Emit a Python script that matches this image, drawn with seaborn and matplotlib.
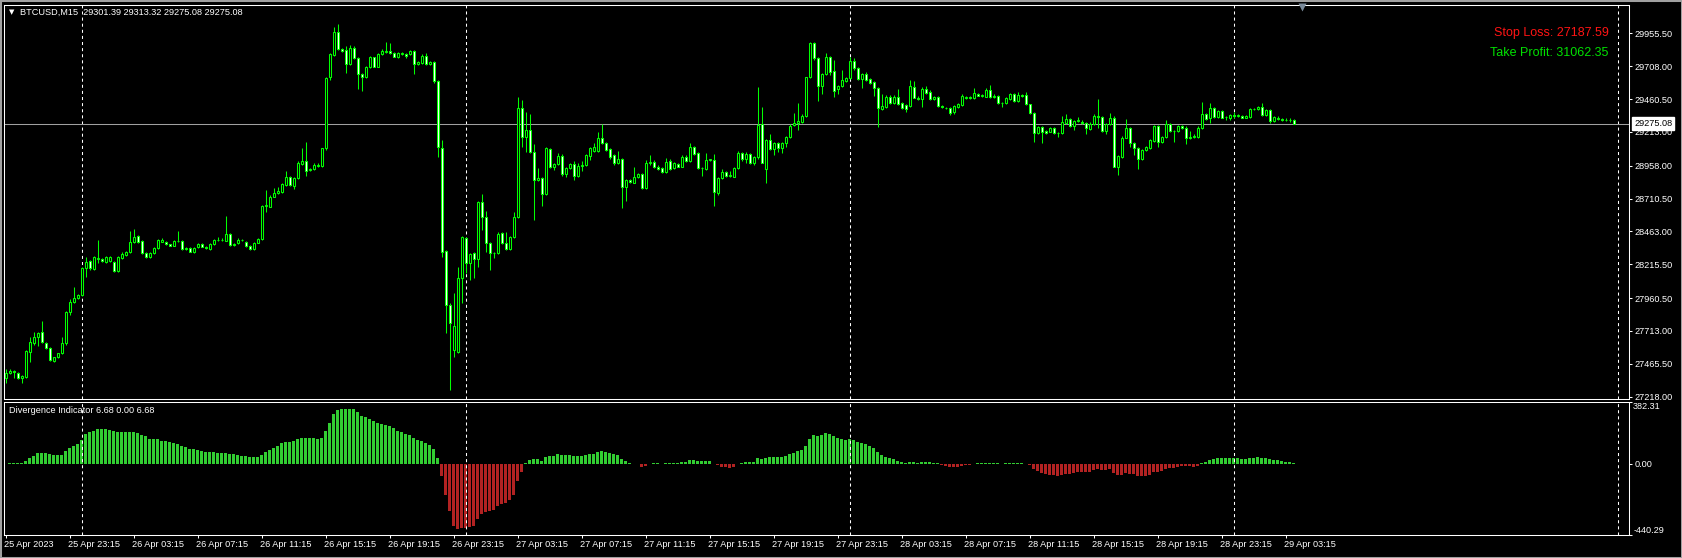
import numpy as np
import pandas as pd
import matplotlib
matplotlib.use("Agg")
import matplotlib.pyplot as plt
import matplotlib.transforms as mtransforms
from matplotlib.patches import Rectangle
import seaborn as sns

# --- chart data ---
symbol = "BTCUSD,M15"
first_bar = "2023-04-25 19:15"
stop_loss = 27187.59
take_profit = 31062.35

open_ = [
    27356, 27394, 27414, 27399, 27356, 27368, 27557, 27620, 27670, 27703,
    27620, 27582, 27489, 27519, 27544, 27620, 27858, 27929, 27959, 27984,
    28185, 28240, 28177, 28253, 28253, 28235, 28240, 28235, 28167, 28260,
    28285, 28305, 28381, 28429, 28393, 28303, 28268, 28298, 28336, 28386,
    28386, 28366, 28356, 28388, 28393, 28330, 28336, 28310, 28343, 28366,
    28348, 28328, 28366, 28398, 28400, 28393, 28441, 28361, 28373, 28398,
    28386, 28353, 28328, 28378, 28406, 28657, 28650, 28725, 28750, 28763,
    28813, 28871, 28805, 28863, 28971, 28996, 28926, 28931, 28956, 28956,
    29089, 29629, 29793, 29963, 29835, 29830, 29722, 29843, 29767, 29649,
    29624, 29700, 29775, 29705, 29800, 29818, 29825, 29805, 29780, 29798,
    29800, 29800, 29823, 29725, 29730, 29785, 29725, 29737, 29599, 29089,
    28318, 27909, 27569, 27552, 28115, 28411, 28223, 28298, 28253, 28682,
    28574, 28373, 28298, 28298, 28449, 28378, 28328, 28418, 28574, 29396,
    29177, 29227, 29059, 28851, 28863, 28743, 29082, 28951, 28969, 29034,
    28893, 28943, 28969, 28883, 28959, 28964, 29034, 29069, 29069, 29165,
    29127, 29082, 29039, 28976, 29006, 28795, 28851, 28830, 28871, 28896,
    28793, 28976, 28989, 28951, 28938, 28908, 28991, 28938, 28971, 28951,
    29026, 28994, 29099, 29051, 28938, 28933, 28999, 28999, 28755, 28863,
    28908, 28883, 28876, 28938, 29051, 29006, 29046, 28976, 29021, 29273,
    28931, 29152, 29082, 29132, 29089, 29127, 29172, 29265, 29283, 29290,
    29335, 29624, 29880, 29767, 29561, 29649, 29775, 29674, 29534, 29559,
    29599, 29617, 29747, 29697, 29609, 29649, 29609, 29587, 29541, 29383,
    29403, 29479, 29428, 29473, 29428, 29416, 29411, 29554, 29471, 29458,
    29536, 29516, 29458, 29473, 29408, 29396, 29391, 29365, 29403, 29416,
    29466, 29479, 29466, 29496, 29486, 29479, 29529, 29474, 29484, 29428,
    29428, 29461, 29496, 29446, 29491, 29491, 29421, 29353, 29207, 29247,
    29220, 29215, 29240, 29207, 29202, 29283, 29310, 29260, 29298, 29290,
    29283, 29232, 29273, 29333, 29328, 29220, 29273, 29315, 28951, 29026,
    29170, 29240, 29132, 29094, 29009, 29077, 29094, 29147, 29257, 29139,
    29172, 29273, 29222, 29220, 29257, 29245, 29165, 29172, 29177, 29240,
    29345, 29315, 29391, 29323, 29370, 29328, 29315, 29340, 29335, 29333,
    29320, 29323, 29383, 29383, 29403, 29340, 29378, 29298, 29320, 29310,
    29303, 29306, 29301.39,
]
high = [
    27424, 27424, 27419, 27405, 27380, 27570, 27670, 27703, 27705, 27788,
    27630, 27590, 27520, 27550, 27670, 27866, 27954, 28047, 27995, 28195,
    28273, 28250, 28280, 28398, 28260, 28280, 28275, 28240, 28275, 28310,
    28312, 28469, 28479, 28435, 28400, 28310, 28305, 28345, 28405, 28411,
    28392, 28370, 28395, 28466, 28400, 28342, 28342, 28348, 28372, 28372,
    28350, 28372, 28405, 28420, 28415, 28579, 28448, 28375, 28411, 28405,
    28392, 28361, 28385, 28412, 28665, 28775, 28740, 28790, 28800, 28830,
    28920, 28880, 28870, 28990, 29094, 29134, 28940, 28975, 28975, 29095,
    29625, 29805, 30006, 30026, 29845, 29860, 29870, 29860, 29775, 29655,
    29710, 29785, 29780, 29810, 29840, 29893, 29885, 29812, 29812, 29815,
    29810, 29830, 29830, 29750, 29800, 29810, 29745, 29745, 29605, 29152,
    28325, 27920, 27996, 28197, 28425, 28420, 28300, 28305, 28690, 28743,
    28617, 28380, 28305, 28455, 28455, 28461, 28430, 28610, 29473, 29453,
    29365, 29345, 29119, 28938, 28870, 29100, 29095, 28975, 29050, 29045,
    28950, 28980, 28990, 28975, 28990, 29045, 29100, 29130, 29210, 29273,
    29135, 29090, 29045, 29069, 29015, 28860, 28860, 28950, 28905, 28905,
    29000, 29040, 29000, 28960, 28945, 29015, 29010, 28985, 28980, 29040,
    29035, 29130, 29105, 29060, 28950, 29050, 29010, 29046, 28870, 28935,
    28915, 28920, 28950, 29070, 29060, 29060, 29055, 29030, 29549, 29403,
    29160, 29200, 29140, 29140, 29140, 29185, 29270, 29353, 29433, 29345,
    29630, 29890, 29893, 29780, 29655, 29805, 29785, 29755, 29565, 29679,
    29625, 29775, 29770, 29705, 29660, 29665, 29615, 29595, 29550, 29496,
    29490, 29490, 29490, 29536, 29435, 29420, 29600, 29599, 29480, 29550,
    29560, 29525, 29485, 29480, 29415, 29400, 29398, 29415, 29430, 29495,
    29485, 29485, 29541, 29505, 29500, 29540, 29566, 29495, 29490, 29440,
    29475, 29505, 29505, 29515, 29495, 29515, 29425, 29360, 29255, 29255,
    29225, 29250, 29248, 29215, 29333, 29345, 29318, 29305, 29323, 29300,
    29290, 29285, 29345, 29461, 29335, 29280, 29353, 29330, 29040, 29180,
    29308, 29250, 29140, 29100, 29085, 29110, 29160, 29265, 29265, 29185,
    29303, 29280, 29230, 29265, 29265, 29255, 29220, 29195, 29255, 29436,
    29355, 29428, 29400, 29380, 29380, 29335, 29350, 29360, 29350, 29340,
    29340, 29390, 29395, 29410, 29428, 29385, 29385, 29335, 29330, 29320,
    29318, 29315, 29313.32,
]
low = [
    27318, 27390, 27356, 27350, 27323, 27360, 27482, 27610, 27600, 27620,
    27575, 27488, 27480, 27510, 27540, 27610, 27833, 27920, 27950, 27975,
    28122, 28175, 28170, 28223, 28230, 28225, 28235, 28160, 28160, 28255,
    28280, 28300, 28375, 28375, 28295, 28260, 28262, 28290, 28330, 28380,
    28360, 28350, 28350, 28385, 28322, 28325, 28305, 28300, 28338, 28342,
    28330, 28322, 28360, 28390, 28390, 28388, 28355, 28355, 28368, 28390,
    28348, 28322, 28320, 28372, 28400, 28612, 28645, 28720, 28745, 28755,
    28808, 28805, 28780, 28858, 28965, 28880, 28920, 28925, 28950, 28950,
    29080, 29600, 29785, 29830, 29815, 29655, 29715, 29760, 29534, 29524,
    29618, 29695, 29700, 29698, 29795, 29810, 29800, 29775, 29770, 29790,
    29770, 29790, 29650, 29718, 29725, 29720, 29720, 29580, 29026, 28273,
    27695, 27268, 27519, 27545, 27921, 28150, 28097, 28115, 28197, 28474,
    28310, 28172, 28260, 28290, 28370, 28320, 28320, 28410, 28565, 29102,
    29064, 29050, 28549, 28845, 28657, 28735, 28940, 28925, 28960, 28880,
    28870, 28935, 28850, 28870, 28920, 28955, 29000, 29060, 29060, 29120,
    29070, 29005, 28960, 28970, 28637, 28695, 28825, 28825, 28865, 28785,
    28780, 28965, 28940, 28925, 28905, 28900, 28925, 28930, 28945, 28945,
    28985, 28985, 29040, 28930, 28880, 28925, 28990, 28657, 28740, 28855,
    28875, 28870, 28870, 28930, 28995, 28980, 28970, 28965, 29010, 28975,
    28830, 29075, 29040, 29060, 29050, 29100, 29165, 29255, 29230, 29280,
    29325, 29620, 29755, 29448, 29500, 29640, 29640, 29473, 29500, 29550,
    29590, 29610, 29680, 29600, 29545, 29595, 29575, 29484, 29252, 29375,
    29395, 29420, 29420, 29415, 29385, 29360, 29400, 29465, 29450, 29403,
    29500, 29450, 29450, 29400, 29390, 29385, 29340, 29350, 29395, 29410,
    29460, 29460, 29460, 29480, 29475, 29475, 29470, 29465, 29420, 29400,
    29420, 29455, 29440, 29440, 29475, 29415, 29345, 29139, 29200, 29132,
    29200, 29210, 29195, 29177, 29195, 29275, 29250, 29230, 29290, 29275,
    29200, 29225, 29265, 29240, 29215, 29200, 29265, 28945, 28888, 29015,
    29165, 29100, 29040, 28933, 29000, 29070, 29085, 29140, 29100, 29130,
    29165, 29215, 29139, 29215, 29235, 29120, 29160, 29165, 29170, 29235,
    29300, 29278, 29320, 29315, 29315, 29303, 29305, 29320, 29325, 29315,
    29315, 29315, 29375, 29378, 29335, 29330, 29280, 29290, 29300, 29298,
    29295, 29290, 29275.08,
]
close = [
    27394, 27414, 27406, 27356, 27374, 27562, 27627, 27670, 27695, 27627,
    27582, 27494, 27514, 27544, 27620, 27858, 27929, 27959, 27984, 28185,
    28235, 28185, 28273, 28265, 28240, 28268, 28268, 28165, 28268, 28290,
    28305, 28381, 28418, 28381, 28303, 28268, 28298, 28336, 28398, 28398,
    28366, 28356, 28388, 28393, 28328, 28336, 28310, 28341, 28366, 28348,
    28341, 28366, 28398, 28400, 28398, 28441, 28361, 28366, 28398, 28398,
    28353, 28331, 28378, 28406, 28657, 28660, 28725, 28755, 28770, 28820,
    28871, 28813, 28863, 28981, 28996, 28921, 28931, 28964, 28964, 29089,
    29617, 29798, 29963, 29835, 29825, 29722, 29843, 29767, 29649, 29624,
    29705, 29775, 29705, 29800, 29825, 29825, 29810, 29780, 29805, 29810,
    29787, 29823, 29725, 29742, 29785, 29725, 29737, 29599, 29102, 28310,
    27909, 27770, 27753, 28115, 28418, 28223, 28293, 28253, 28682, 28574,
    28373, 28298, 28300, 28441, 28378, 28328, 28418, 28574, 29391, 29177,
    29227, 29059, 28851, 28863, 28743, 29094, 28951, 28969, 29034, 28893,
    28943, 28969, 28883, 28959, 28964, 29039, 29089, 29097, 29165, 29127,
    29077, 29026, 28976, 29006, 28795, 28851, 28833, 28871, 28896, 28793,
    28976, 28989, 28951, 28933, 28913, 28989, 28933, 28976, 28951, 29026,
    28994, 29099, 29046, 28938, 28943, 29001, 29006, 28763, 28863, 28908,
    28883, 28888, 28938, 29051, 29006, 29046, 28976, 29021, 29265, 28981,
    29152, 29082, 29127, 29089, 29132, 29172, 29260, 29283, 29298, 29335,
    29624, 29880, 29767, 29561, 29647, 29775, 29667, 29521, 29559, 29604,
    29617, 29747, 29697, 29612, 29649, 29604, 29584, 29541, 29391, 29408,
    29479, 29428, 29479, 29423, 29391, 29383, 29559, 29471, 29458, 29536,
    29509, 29458, 29479, 29411, 29398, 29391, 29353, 29408, 29423, 29484,
    29479, 29466, 29504, 29486, 29491, 29529, 29474, 29486, 29428, 29433,
    29466, 29496, 29446, 29491, 29484, 29421, 29353, 29202, 29247, 29215,
    29207, 29240, 29202, 29202, 29285, 29310, 29260, 29298, 29300, 29283,
    29240, 29273, 29333, 29328, 29220, 29273, 29315, 28951, 29031, 29170,
    29240, 29132, 29094, 29009, 29077, 29102, 29152, 29257, 29139, 29177,
    29273, 29220, 29220, 29257, 29240, 29165, 29172, 29185, 29245, 29345,
    29310, 29391, 29328, 29370, 29320, 29326, 29340, 29335, 29340, 29320,
    29333, 29383, 29386, 29403, 29340, 29378, 29298, 29323, 29310, 29303,
    29306, 29301, 29275.08,
]
divergence = [
    -1.0, 2.1, 6.2, 6.2, 2.1, 18.5, 37.0, 49.4, 67.9, 67.9,
    63.8, 59.7, 55.6, 55.6, 55.6, 78.2, 96.7, 111.2, 121.5, 146.2,
    181.3, 193.6, 203.9, 212.2, 214.2, 214.2, 210.1, 201.9, 195.7, 195.7,
    193.6, 193.6, 195.7, 189.5, 177.2, 168.9, 152.4, 150.4, 150.4, 142.1,
    138.0, 131.8, 125.7, 121.5, 111.2, 103.0, 92.7, 88.6, 82.4, 78.3,
    70.0, 70.0, 70.0, 63.9, 63.9, 63.9, 59.7, 59.7, 55.6, 49.4,
    49.4, 39.1, 39.1, 39.1, 55.6, 70.0, 86.5, 96.8, 111.2, 125.7,
    136.0, 136.0, 142.1, 150.4, 160.7, 160.7, 160.7, 160.7, 154.5, 160.7,
    203.9, 253.4, 306.9, 329.6, 339.9, 339.9, 339.9, 339.9, 319.3, 296.6,
    286.3, 276.0, 263.7, 251.3, 245.1, 239.0, 230.7, 218.4, 203.9, 193.6,
    183.3, 177.2, 158.6, 146.3, 138.0, 127.7, 117.4, 92.7, 37.1, -74.2,
    -191.6, -290.5, -383.2, -401.7, -395.5, -395.5, -389.3, -383.2, -339.9, -309.0,
    -296.6, -290.5, -284.3, -259.6, -247.2, -241.0, -222.5, -191.6, -105.1, -49.4,
    6.2, 24.7, 30.9, 30.9, 18.5, 43.3, 49.4, 49.4, 61.8, 55.6,
    55.6, 55.6, 49.4, 49.4, 49.4, 55.6, 61.8, 61.8, 74.2, 80.3,
    74.2, 68.0, 61.8, 55.6, 30.9, 18.5, 6.2, -4.1, -4.1, -18.5,
    -12.4, -4.1, 2.1, 2.1, -4.1, 4.1, 4.1, 4.1, 4.1, 12.4,
    12.4, 24.7, 24.7, 18.5, 18.5, 18.5, 18.5, -4.1, -10.3, -18.5,
    -18.5, -24.7, -18.5, -4.1, 6.2, 12.4, 12.4, 12.4, 37.1, 30.9,
    37.1, 43.3, 43.3, 43.3, 43.3, 49.4, 61.8, 68.0, 80.3, 86.5,
    111.2, 154.5, 179.2, 173.0, 179.2, 191.6, 185.4, 173.0, 160.7, 154.5,
    148.3, 154.5, 148.3, 136.0, 129.8, 123.6, 111.2, 98.9, 74.2, 55.6,
    43.3, 37.1, 30.9, 18.5, 12.4, 6.2, 12.4, 12.4, 6.2, 12.4,
    12.4, 12.4, 6.2, 2.1, -10.3, -16.5, -22.7, -22.7, -22.7, -16.5,
    -10.3, -10.3, -4.1, 2.1, 6.2, 4.1, 4.1, 4.1, 4.1, -4.1,
    2.1, 6.2, 2.1, 6.2, 6.2, -4.1, -10.3, -30.9, -43.3, -55.6,
    -61.8, -68.0, -68.0, -74.2, -68.0, -61.8, -61.8, -55.6, -49.4, -49.4,
    -49.4, -49.4, -37.1, -30.9, -37.1, -37.1, -30.9, -55.6, -68.0, -68.0,
    -55.6, -61.8, -61.8, -74.2, -74.2, -74.2, -68.0, -49.4, -49.4, -43.3,
    -30.9, -24.7, -24.7, -18.5, -12.4, -12.4, -12.4, -18.5, -12.4, 6.2,
    12.4, 24.7, 30.9, 37.1, 37.1, 37.1, 37.1, 37.1, 37.1, 30.9,
    30.9, 37.1, 37.1, 43.3, 37.1, 37.1, 30.9, 24.7, 24.7, 18.5,
    12.4, 12.4, 6.68,
]

price_ticks = [29955.50, 29708.00, 29460.50, 29213.00, 28958.00, 28710.50,
               28463.00, 28215.50, 27960.50, 27713.00, 27465.50, 27218.00]
ind_top, ind_bottom = 382.31, -440.29

# --- style ---
sns.set_style("dark", {"axes.facecolor": "black", "figure.facecolor": "black"})
plt.rcParams['font.family'] = ['Liberation Sans', 'DejaVu Sans']
plt.rcParams['text.color'] = 'white'
plt.rcParams['lines.scale_dashes'] = False

LIME = '#00ff00'
W, H = 1682, 558
fig = plt.figure(figsize=(W / 100, H / 100), dpi=100, facecolor='black')


def px_axes(x0, y0, x1, y1):
    # axes placed by pixel box (top-left origin)
    return fig.add_axes([x0 / W, 1 - y1 / H, (x1 - x0) / W, (y1 - y0) / H])


ax = px_axes(4.3, 4.7, 1629, 399.3)
ax2 = px_axes(4.3, 401.7, 1629, 535)

bars = pd.DataFrame({'open': open_, 'high': high, 'low': low,
                     'close': close, 'div': divergence})
n = len(bars)
bars['idx'] = np.arange(n)
bars['time'] = pd.date_range(first_bar, periods=n, freq='15min')
bars['sign'] = np.where(bars['div'] >= 0, 'up', 'down')
bull = bars['close'] >= bars['open']

x_min, x_max = -0.35, 405.8

# --- candles ---
ax.vlines(bars['idx'], bars['low'], bars['high'], color=LIME, lw=0.75, zorder=2)
body_lo = np.minimum(bars['open'], bars['close'])
body_h = np.maximum((bars['close'] - bars['open']).abs(), 2.0)
ax.bar(bars['idx'], body_h, bottom=body_lo, width=0.5,
       color=np.where(bull, 'black', 'white'), edgecolor=LIME, linewidth=0.75, zorder=3)

# last price line + label
last = bars['close'].iloc[-1]
ax.axhline(last, color='#a0a0a0', lw=0.75, zorder=1.5)
ax.text(1.0, last, f"{last:.2f}", color='black', fontsize=6.6, ha='left', va='center',
        transform=mtransforms.offset_copy(ax.get_yaxis_transform(), fig=fig, x=3.6, units='points'),
        bbox=dict(boxstyle='square,pad=0.18', fc='white', ec='white'), zorder=10, clip_on=False)

# --- divergence histogram ---
sns.barplot(data=bars, x='idx', y='div', hue='sign',
            palette={'up': '#32cd32', 'down': '#b22222'}, native_scale=True,
            width=0.75, saturation=1, linewidth=0, errorbar=None, legend=False, ax=ax2)
ax2.set_xlabel('')
ax2.set_ylabel('')

# --- axes look ---
for a in (ax, ax2):
    a.set_facecolor('black')
    a.set_xlim(x_min, x_max)
    a.grid(False)
    for s in a.spines.values():
        s.set_color('white')
        s.set_linewidth(0.75)

ax.set_ylim(27198, 30171)
ax.yaxis.tick_right()
ax.set_yticks(price_ticks, [f"{v:.2f}" for v in price_ticks])
ax.tick_params(axis='y', colors='white', labelsize=6.6, length=2.5, width=0.75, pad=1.2,
               left=False, right=True)
ax.tick_params(axis='x', bottom=False, labelbottom=False)

ax2.set_ylim(ind_bottom, ind_top)
ax2.yaxis.tick_right()
ax2.set_yticks([ind_bottom, 0, ind_top], ['', '0.00', ''])
ax2.tick_params(axis='y', colors='white', labelsize=6.6, length=2.5, width=0.75, pad=1.2,
                left=False, right=True)
ind_tr = mtransforms.offset_copy(ax2.get_yaxis_transform(), fig=fig, x=3.0, units='points')
ax2.text(1.0, ind_top, f"{ind_top:.2f}", fontsize=6.6, ha='left', va='top',
         transform=ind_tr, clip_on=False)
ax2.text(1.0, ind_bottom, f"{ind_bottom:.2f}", fontsize=6.6, ha='left', va='bottom',
         transform=ind_tr, clip_on=False)

# time labels every 4 hours
lab = bars.iloc[::16]
ax2.set_xticks(lab['idx'], [''] * len(lab))
ax2.tick_params(axis='x', colors='white', length=2.5, width=0.75, bottom=True)
for i, t in zip(lab['idx'], lab['time']):
    txt = t.strftime('%d %b %Y') if i == 0 else t.strftime('%d %b %H:%M')
    ax2.text(i - 0.4, -0.071, txt, transform=ax2.get_xaxis_transform(), fontsize=6.6,
             ha='left', va='center', clip_on=False)

# day separators
ext_times = pd.date_range(first_bar, periods=int(x_max) + 1, freq='15min')
midnights = np.flatnonzero((ext_times.hour == 0) & (ext_times.minute == 0))
for a in (ax, ax2):
    for m in midnights:
        a.axvline(m, color='white', lw=0.75, ls=(0, (2.2, 2.2)), zorder=1)

# chart shift marker
ax.plot([n + 1], [0.994], marker='v', ms=6, color='#7a8a9a', mec='none',
        transform=ax.get_xaxis_transform(), clip_on=False, zorder=5)

# --- header / overlay texts ---
o, h, l, c = bars[['open', 'high', 'low', 'close']].iloc[-1]
fig.text(11.5 / W, 1 - 12.6 / H, '\u25bc', fontsize=5, ha='center', va='center',
         family='DejaVu Sans')
fig.text(20.3 / W, 1 - 12.7 / H, f"{symbol}  {o:.2f} {h:.2f} {l:.2f} {c:.2f}",
         fontsize=6.6, ha='left', va='center')
d = bars['div'].iloc[-1]
fig.text(9.3 / W, 1 - 410.7 / H, f"Divergence Indicator {d:.2f} 0.00 {d:.2f}",
         fontsize=6.6, ha='left', va='center')
fig.text(1608.7 / W, 1 - 33.3 / H, f"Stop Loss: {stop_loss:.2f}", color='#ff1414',
         fontsize=9, ha='right', va='center')
fig.text(1608.7 / W, 1 - 53.3 / H, f"Take Profit: {take_profit:.2f}", color='#00e000',
         fontsize=9, ha='right', va='center')

# window frame
fig.add_artist(Rectangle((0, 0), 1, 1, transform=fig.transFigure, fill=False,
                         ec='#a0a0a0', lw=2.2))

fig.savefig('out.png', dpi=100, facecolor='black')
